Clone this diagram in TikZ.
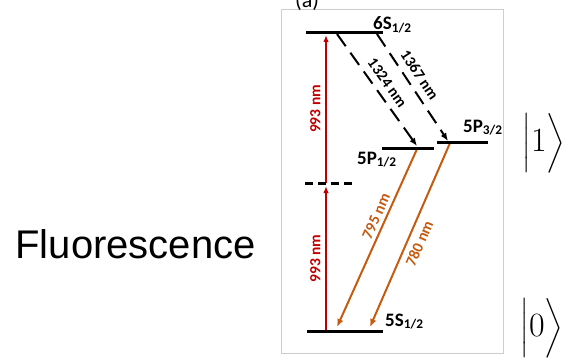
\RequirePackage{fix-cm}
\documentclass[tikz,border=0pt]{standalone}
\usepackage{amsmath}
\usepackage{exscale}
\usepackage{fontspec}
\newfontfamily\levelfont{Carlito}
\newfontfamily\fluofont{Liberation Sans}
\usetikzlibrary{arrows.meta, positioning, calc}

\definecolor{pumpred}{RGB}{192,0,0}
\definecolor{decayorange}{RGB}{197,90,17}
\definecolor{panelgray}{RGB}{205,205,205}

\begin{document}
\begin{tikzpicture}[x=1pt, y=-1pt,
        level/.style={line width=3pt},
        virtual/.style={line width=3pt, dash pattern=on 8pt off 5pt},
        pump/.style={draw=pumpred, line width=2pt, -{Latex[length=7pt, width=5.5pt]}},
        cascade/.style={draw, line width=2pt, dash pattern=on 15pt off 8pt, -{Latex[length=8pt, width=6.5pt]}},
        fluo/.style={draw=decayorange, line width=2pt, -{Latex[length=8pt, width=6.5pt]}},
        lvlabel/.style={font=\levelfont\bfseries\fontsize{19}{19}\selectfont, inner sep=0pt, anchor=base west},
        wave/.style={font=\levelfont\bfseries\fontsize{15.5}{15.5}\selectfont, inner sep=1.5pt, sloped},
        ket/.style={font=\fontsize{34}{40}\selectfont, inner sep=0pt}
    ]
        \useasboundingbox (0,0) rectangle (573,361);
        \clip (0,0) rectangle (573,361);

        % Panel
        \draw[panelgray, line width=1pt] (281.5,9.5) rectangle (503.5,353);
        \node[font=\levelfont\fontsize{22}{22}\selectfont, inner sep=0pt, anchor=base west] (tag) at (295,8) {(a)};

        % Levels
        \coordinate (s6w) at (306,33);  \coordinate (s6e) at (383,33);
        \coordinate (p1w) at (382,148); \coordinate (p1e) at (434,148);
        \coordinate (p3w) at (437,142); \coordinate (p3e) at (488,142);
        \coordinate (s5w) at (307,331); \coordinate (s5e) at (383,331);
        \coordinate (vw) at (305,183);  \coordinate (ve) at (352,183);

        % Arrow ends
        \coordinate (pumpA) at (326,331); \coordinate (pumpB) at (326,186);
        \coordinate (pumpC) at (326,183); \coordinate (pumpD) at (326,35);
        \coordinate (c1a) at (337,34);  \coordinate (c1b) at (417,146);
        \coordinate (c3a) at (377,34);  \coordinate (c3b) at (448,141);
        \coordinate (f1a) at (417,149); \coordinate (f1b) at (337,327);
        \coordinate (f3a) at (450,143); \coordinate (f3b) at (370,327);

        % Two-photon pump
        \draw[pump] (pumpA) -- (pumpB) node[wave, midway, above=3pt, text=pumpred] {993 nm};
        \draw[pump] (pumpC) -- (pumpD) node[wave, midway, above=3pt, text=pumpred] {993 nm};

        % Cascade 6S -> 5P
        \draw[cascade] (c1a) -- (c1b) node[wave, pos=0.5, above=5pt] {1324 nm};
        \draw[cascade] (c3a) -- (c3b) node[wave, pos=0.45, above=5pt] {1367 nm};

        % Fluorescence 5P -> 5S
        \draw[fluo] (f1a) -- (f1b) node[wave, pos=0.4, above=2pt, text=decayorange] {795 nm};
        \draw[fluo] (f3a) -- (f3b) node[wave, pos=0.52, below=4pt, text=decayorange] {780 nm};

        \draw[level] (s6w) -- (s6e);
        \draw[level] (p1w) -- (p1e);
        \draw[level] (p3w) -- (p3e);
        \draw[level] (s5w) -- (s5e);
        \draw[virtual] (vw) -- (ve);

        % Level names
        \node[lvlabel] (n6s) at (373,30) {6S\textsubscript{1/2}};
        \node[lvlabel] (n5p1) at (357,164) {5P\textsubscript{1/2}};
        \node[lvlabel] (n5p3) at (463,132) {5P\textsubscript{3/2}};
        \node[lvlabel] (n5s) at (385,326) {5S\textsubscript{1/2}};

        % Qubit states
        \node[ket] (ket1) at (544,143) {$\Big|1\Big\rangle$};
        \node[ket] (ket0) at (542,328) {$\Big|0\Big\rangle$};

        \node[font=\fluofont\fontsize{40}{44}\selectfont, inner sep=0pt, anchor=base] (fluo) at (135.5,258) {Fluorescence};
    \end{tikzpicture}
\end{document}
